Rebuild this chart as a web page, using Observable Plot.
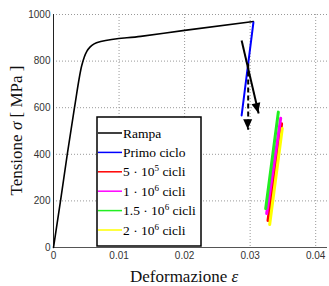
<!DOCTYPE html>
<html>
<head>
<meta charset="utf-8">
<script src="https://cdn.jsdelivr.net/npm/d3@7"></script>
<script src="https://cdn.jsdelivr.net/npm/@observablehq/plot@0.6"></script>
<style>
  html, body { margin: 0; padding: 0; background: #fff; }
  #chart { width: 329px; height: 286px; }
</style>
</head>
<body>
<div id="chart"></div>
<script>
// Ramp (monotonic loading)
const rampaX = [0, 0.00107, 0.0021, 0.0032, 0.0043, 0.0047, 0.0051, 0.0056, 0.0062, 0.0072, 0.0133, 0.0200, 0.0305];
const rampaY = [0, 200, 400, 600, 780, 818, 843, 861, 874, 884, 906, 932, 970];
// First cycle
const primoX = [0.0287, 0.0305];
const primoY = [567, 966];
// Cycle lines (start, end)
const c5e5X = [0.03272, 0.0348];  const c5e5Y = [116, 531];
const c1e6X = [0.03252, 0.03466]; const c1e6Y = [146, 555];
const c15e6X = [0.03237, 0.0343]; const c15e6Y = [167, 581];
const c2e6X = [0.03298, 0.0349];  const c2e6Y = [99, 511];
// Arrows
const arrowSolid = {x1: 0.0287, y1: 888, x2: 0.0313, y2: 575};
const arrowDashed = {x1: 0.0297, y1: 790, x2: 0.0297, y2: 505};
// Ticks
const xTicks = [0, 0.01, 0.02, 0.03, 0.04];
const yTicks = [0, 200, 400, 600, 800, 1000];
// Legend
const legendBase = ["Rampa", "Primo ciclo", "5 \u00b7 10", "1 \u00b7 10", "1.5 \u00b7 10", "2 \u00b7 10"];
const legendExp = ["", "", "5", "6", "6", "6"];
const legendTail = ["", "", " cicli", " cicli", " cicli", " cicli"];
const legendColors = ["#000000", "#0000ff", "#ff0000", "#ff00ff", "#22ee22", "#ffff00"];

const toPts = (xs, ys) => xs.map((x, i) => ({x, y: ys[i]}));

const plot = Plot.plot({
  width: 329,
  height: 286,
  marginLeft: 53,
  marginRight: 2,
  marginTop: 14,
  marginBottom: 39,
  style: {fontFamily: "Liberation Sans, Arial, sans-serif", fontSize: "10px", color: "#333", background: "#fff"},
  x: {domain: [0, 0.0418], ticks: xTicks},
  y: {domain: [0, 1000], ticks: yTicks},
  marks: [
    Plot.gridX(xTicks.slice(1), {stroke: "#999", strokeOpacity: 1, strokeDasharray: "1,2", strokeWidth: 1}),
    Plot.gridY(yTicks.slice(1), {stroke: "#999", strokeOpacity: 1, strokeDasharray: "1,2", strokeWidth: 1}),
    Plot.axisX(xTicks, {tickSize: 0, tickPadding: 4, tickFormat: d => d === 0 ? "0" : String(d), label: null, fill: "#333"}),
    Plot.axisY(yTicks, {tickSize: 0, tickPadding: 3, tickFormat: d => String(d), label: null, fill: "#333"}),
    Plot.ruleX([0], {stroke: "#222", strokeWidth: 1}),
    Plot.ruleY([0], {stroke: "#555", strokeWidth: 1}),
    Plot.line(toPts(rampaX, rampaY), {x: "x", y: "y", stroke: legendColors[0], strokeWidth: 1.6, curve: "monotone-x"}),
    Plot.line(toPts(primoX, primoY), {x: "x", y: "y", stroke: legendColors[1], strokeWidth: 2}),
    Plot.line(toPts(c5e5X, c5e5Y), {x: "x", y: "y", stroke: legendColors[2], strokeWidth: 3}),
    Plot.line(toPts(c2e6X, c2e6Y), {x: "x", y: "y", stroke: legendColors[5], strokeWidth: 3}),
    Plot.line(toPts(c1e6X, c1e6Y), {x: "x", y: "y", stroke: legendColors[3], strokeWidth: 3}),
    Plot.line(toPts(c15e6X, c15e6Y), {x: "x", y: "y", stroke: legendColors[4], strokeWidth: 3}),
    Plot.link([arrowSolid], {x1: "x1", y1: "y1", x2: "x2", y2: "y2", stroke: "#000", strokeWidth: 2}),
    Plot.link([arrowDashed], {x1: "x1", y1: "y1", x2: "x2", y2: "y2", stroke: "#000", strokeWidth: 2, strokeDasharray: "5,3"})
  ]
});

document.getElementById("chart").appendChild(plot);

const svg = d3.select(plot);
const sx = plot.scale("x"), sy = plot.scale("y");
const px = v => sx.apply(v), py = v => sy.apply(v);

// Filled arrowheads
function head(a) {
  const x1 = px(a.x1), y1 = py(a.y1), x2 = px(a.x2), y2 = py(a.y2);
  const ang = Math.atan2(y2 - y1, x2 - x1);
  const L = 10, W = 4.5;
  const bx = x2 - L * Math.cos(ang), by = y2 - L * Math.sin(ang);
  const nx = -Math.sin(ang), ny = Math.cos(ang);
  svg.append("path")
    .attr("d", `M${x2},${y2}L${bx + W * nx},${by + W * ny}L${bx - W * nx},${by - W * ny}Z`)
    .attr("fill", "#000");
}
head(arrowSolid);
head(arrowDashed);

// Axis labels
const serif = "'Liberation Serif', 'DejaVu Serif', serif";
svg.append("text")
  .attr("transform", `translate(22,${(py(0) + py(1000)) / 2}) rotate(-90)`)
  .attr("text-anchor", "middle")
  .attr("font-family", serif).attr("font-size", 17).attr("fill", "#111")
  .html('Tensione <tspan font-style="italic">σ</tspan> [ MPa ]');
svg.append("text")
  .attr("x", px(0.02)).attr("y", 282)
  .attr("text-anchor", "middle")
  .attr("font-family", serif).attr("font-size", 17).attr("fill", "#111")
  .html('Deformazione <tspan font-style="italic">ε</tspan>');

// Legend
const lg = svg.append("g").attr("text-anchor", "start");
const lx = 97, ly = 117, lw = 104, lh = 129, rowH = 19.4, row0 = 16;
lg.append("rect").attr("x", lx).attr("y", ly).attr("width", lw).attr("height", lh)
  .attr("fill", "#fff").attr("stroke", "#000").attr("stroke-width", 1.5);
legendBase.forEach((b, i) => {
  const yy = ly + row0 + i * rowH;
  lg.append("line").attr("x1", lx + 1).attr("x2", lx + 25).attr("y1", yy).attr("y2", yy)
    .attr("stroke", legendColors[i]).attr("stroke-width", 1.5);
  const t = lg.append("text").attr("x", lx + 26).attr("y", yy + 4.5)
    .attr("text-anchor", "start")
    .attr("font-family", serif).attr("font-size", 13.5).attr("fill", "#000");
  t.append("tspan").text(b);
  if (legendExp[i]) {
    t.append("tspan").attr("dy", -5).attr("font-size", 9).text(legendExp[i]);
    t.append("tspan").attr("dy", 5).text(legendTail[i]);
  }
});
</script>
</body>
</html>
